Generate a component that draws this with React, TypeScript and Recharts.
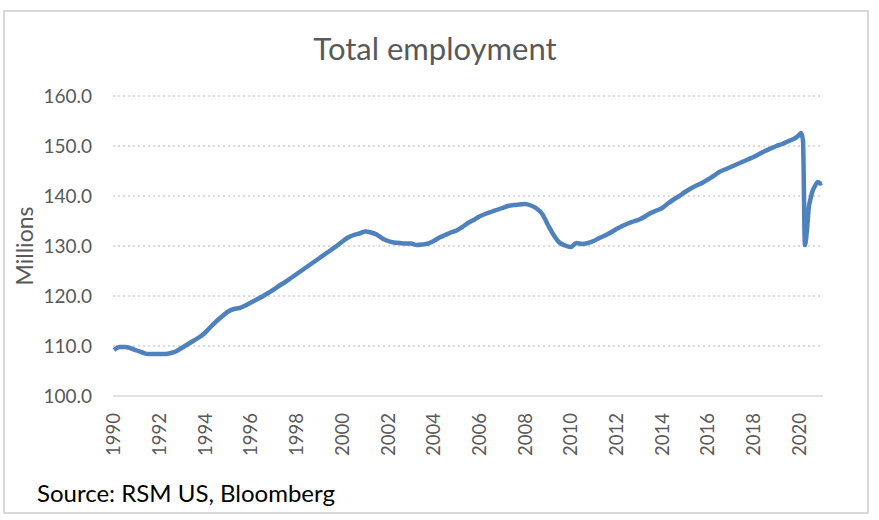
import React from 'react';
import { LineChart, Line, XAxis, YAxis, CartesianGrid } from 'recharts';

// Total nonfarm employment, millions
// quarterly points (Jan, Apr, Jul, Oct)
const emp1990s = [
  109.2, 109.8, 109.8, 109.5,
  109.1, 108.7, 108.4, 108.4,
  108.4, 108.4, 108.6, 109.0,
  109.7, 110.4, 111.1, 111.8,
  112.7, 113.9, 115.0, 116.0,
  116.9, 117.4, 117.6, 118.1,
  118.7, 119.3, 119.9, 120.6,
  121.3, 122.1, 122.8, 123.6,
  124.4, 125.2, 126.0, 126.8,
  127.6, 128.4, 129.2, 130.0,
];

const emp2000s = [
  130.9, 131.7, 132.2, 132.5,
  132.9, 132.7, 132.3, 131.5,
  131.0, 130.7, 130.6, 130.5,
  130.5, 130.2, 130.3, 130.5,
  131.0, 131.7, 132.2, 132.7,
  133.1, 133.8, 134.6, 135.2,
  135.9, 136.4, 136.8, 137.2,
  137.6, 138.0, 138.2, 138.3,
  138.4, 138.1, 137.5, 136.4,
  134.2, 132.2, 130.7, 130.1,
];

const emp2010s = [
  129.8, 130.6, 130.4, 130.6,
  131.0, 131.6, 132.1, 132.7,
  133.4, 134.0, 134.5, 134.9,
  135.3, 135.9, 136.6, 137.1,
  137.6, 138.5, 139.3, 140.0,
  140.8, 141.5, 142.1, 142.6,
  143.3, 144.0, 144.8, 145.3,
  145.8, 146.3, 146.8, 147.3,
  147.8, 148.4, 149.0, 149.5,
  150.0, 150.4, 150.9, 151.4,
];

// monthly, Nov 2019 .. Jan 2021
const empMonthly = [
  151.6, 151.9, 152.2, 152.6, 151.0, 130.2, 132.9, 137.6,
  139.5, 141.0, 141.8, 142.5, 142.8, 142.5, 142.6,
];

const yearTicks = [1990, 1992, 1994, 1996, 1998, 2000, 2002, 2004, 2006, 2008, 2010, 2012, 2014, 2016, 2018, 2020];
const valueTicks = [100, 110, 120, 130, 140, 150, 160];

const quarterly = [...emp1990s, ...emp2000s, ...emp2010s];
const data = [
  ...quarterly.map((v, i) => ({ t: 1990 + i / 4, v })),
  ...empMonthly.map((v, i) => ({ t: 2019 + (10 + i) / 12, v })),
];

const FONT = 'Lato, "Open Sans", sans-serif';
const GREY = '#595959';

const YearTick = (props: any) => {
  const { x, payload } = props;
  return (
    <text
      x={x}
      y={413}
      transform={`rotate(-90 ${x} 413)`}
      textAnchor="end"
      dy="0.35em"
      fill={GREY}
      fontSize={18.5}
      fontFamily={FONT}
    >
      {payload.value}
    </text>
  );
};

export default function App() {
  return (
    <div style={{ position: 'absolute', left: 0, top: 0, width: 879, height: 520, background: '#fff', fontFamily: FONT }}>
      <div style={{ position: 'absolute', left: 3, top: 10, width: 862, height: 500, border: '2px solid #d9d9d9' }} />
      <div style={{ position: 'absolute', left: 0, top: 29, width: 870, textAlign: 'center', fontSize: 31, color: GREY, lineHeight: '38px' }}>
        Total employment
      </div>
      <div style={{ position: 'absolute', left: 37, top: 477, fontSize: 24, color: '#000', lineHeight: '32px' }}>
        Source: RSM US, Bloomberg
      </div>
      <LineChart width={879} height={520} data={data} margin={{ top: 96, right: 56, bottom: 0, left: 53 }}>
        <CartesianGrid vertical={false} stroke="#d0d0d0" strokeDasharray="2 3" strokeWidth={1.5} horizontalValues={[110, 120, 130, 140, 150, 160]} />
        <XAxis
          dataKey="t"
          type="number"
          domain={[1990 - 1 / 24, 2021 + 1 / 24]}
          ticks={yearTicks}
          interval={0}
          tick={<YearTick />}
          tickLine={false}
          axisLine={{ stroke: '#d9d9d9', strokeWidth: 1.5 }}
          height={124}
        />
        <YAxis
          width={60}
          domain={[100, 160]}
          ticks={valueTicks}
          tickFormatter={(v: number) => v.toFixed(1)}
          tick={{ fill: GREY, fontSize: 19, fontFamily: FONT }}
          tickLine={false}
          axisLine={false}
          tickMargin={15}
          label={{ value: 'Millions', angle: -90, position: 'insideLeft', dx: -33, fill: GREY, fontSize: 23, fontFamily: FONT, style: { textAnchor: 'middle' } }}
        />
        <Line type="monotone" dataKey="v" stroke="#4f81bd" strokeWidth={4.5} dot={false} isAnimationActive={false} />
      </LineChart>
    </div>
  );
}
